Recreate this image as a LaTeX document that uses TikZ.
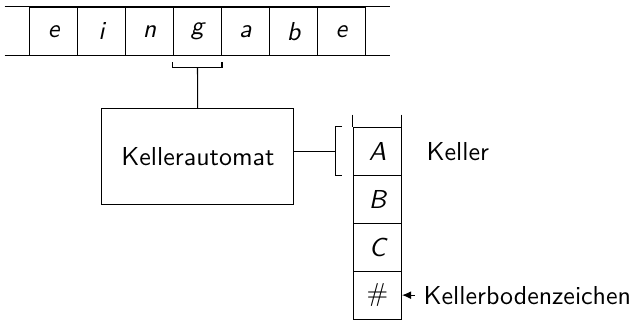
\documentclass[tikz,border=0pt]{standalone}
\usepackage{tikz}
\usetikzlibrary{positioning,arrows.meta}

\begin{document}
\begin{tikzpicture}[
      x=0.65cm, y=0.65cm,
      node distance=2mm,
      cell/.style={draw, minimum size=0.65cm, inner sep=0pt, font=\sffamily\itshape},
      box/.style={draw, minimum width=2.6cm, minimum height=1.3cm, font=\sffamily},
      lbl/.style={font=\sffamily},
      >={Latex[length=3.5pt,width=3pt]}]
    \useasboundingbox (0,0) rectangle (13.19,-6.667);
    % Eingabeband
    \foreach \c [count=\i] in {e,i,n,g,a,b,e}
      \node[cell] (t\i) at (0.115+\i,-0.65) {\c};
    \draw ([xshift=-0.33cm]t1.north west) -- ([xshift=0.33cm]t7.north east);
    \draw ([xshift=-0.33cm]t1.south west) -- ([xshift=0.33cm]t7.south east);
    % Lesekopf
    \coordinate (kopf) at ([yshift=-4.5pt]t4.south);
    \draw ([yshift=-2.5pt]t4.south west) |- (kopf) -| ([yshift=-2.5pt]t4.south east);
    \node[box] (auto) at (4.125,-3.27) {Kellerautomat};
    \draw (kopf) -- (auto);
    % Keller
    \foreach \c [count=\i] in {A,B,C}
      \node[cell] (k\i) at (7.865,-2.15-\i) {\c};
    \node[cell, font=\normalfont] (k4) at (7.865,-6.15) {$\#$};
    \draw ([yshift=0.1625cm]k1.north west) -- (k1.north west);
    \draw ([yshift=0.1625cm]k1.north east) -- (k1.north east);
    % Zugriff auf das oberste Kellerzeichen
    \coordinate (spitze) at ([xshift=-6.8pt]k1.west);
    \draw ([xshift=-4.2pt]k1.north west) -| ([xshift=-6.8pt]k1.north west)
          |- ([xshift=-4.2pt]k1.south west);
    \draw (auto.east |- spitze) -- (spitze);
    \node[lbl, right=2.1mm of k1] (keller) {Keller};
    \node[lbl, right=1.7mm of k4] (boden) {Kellerbodenzeichen};
    \draw[->] (boden) -- (k4);
  \end{tikzpicture}
\end{document}
